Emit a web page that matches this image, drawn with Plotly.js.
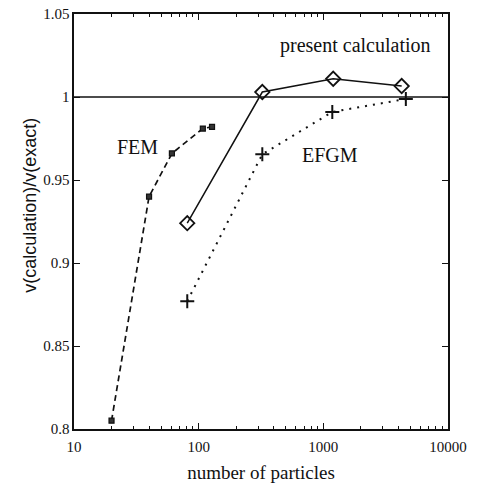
<!DOCTYPE html>
<html><head><meta charset="utf-8">
<script src="https://cdn.plot.ly/plotly-3.0.1.min.js"></script>
<style>html,body{margin:0;padding:0;background:#fff}#chart{width:481px;height:483px}</style>
</head><body><div id="chart"></div>
<script>
// Data
const femN = [20, 40, 61, 108, 128];
const femV = [0.805, 0.940, 0.966, 0.981, 0.982];
const presentN = [81, 324, 1200, 4250];
const presentV = [0.924, 1.003, 1.011, 1.0066];
const efgmN = [81, 324, 1180, 4590];
const efgmV = [0.877, 0.9655, 0.991, 0.9988];
const exactRatio = 1;
const xTickVals = [10, 100, 1000, 10000];
const xTickText = ['10', '100', '1000', '10000'];
const xMinorVals = [20,30,40,50,60,70,80,90,200,300,400,500,600,700,800,900,2000,3000,4000,5000,6000,7000,8000,9000];
const yTickVals = [0.8, 0.85, 0.9, 0.95, 1, 1.05];
const yTickText = ['0.8', '0.85', '0.9', '0.95', '1', '1.05'];

const serif = '"Liberation Serif", "Times New Roman", Times, serif';
const sans = '"Liberation Sans", Arial, Helvetica, sans-serif';
const ink = '#111';

const traces = [
  {x: femN, y: femV, mode: 'lines+markers', name: 'FEM',
   line: {color: ink, width: 1.7, dash: '6px,4px'},
   marker: {symbol: 'square', size: 5, color: '#333', line: {color: ink, width: 1.2}}},
  {x: presentN, y: presentV, mode: 'lines+markers', name: 'present calculation',
   line: {color: ink, width: 1.5},
   marker: {symbol: 'diamond-open', size: 11, color: ink, line: {color: ink, width: 1.8}}},
  {x: efgmN, y: efgmV, mode: 'lines+markers', name: 'EFGM',
   line: {color: ink, width: 2, dash: '2px,6px'},
   marker: {symbol: 'cross-thin-open', size: 10, color: ink, line: {color: ink, width: 2}}}
];

const layout = {
  width: 481, height: 483,
  margin: {l: 74, r: 33, t: 14, b: 54},
  paper_bgcolor: '#fff', plot_bgcolor: '#fff',
  showlegend: false,
  font: {family: serif, size: 15, color: ink},
  xaxis: {
    type: 'log', range: [1, 4],
    tickmode: 'array', tickvals: xTickVals, ticktext: xTickText,
    ticks: 'inside', ticklen: 6, tickcolor: ink, tickwidth: 1,
    ticklabelstandoff: 3,
    minor: {tickmode: 'array', tickvals: xMinorVals, ticks: 'inside', ticklen: 3, tickcolor: ink, showgrid: false},
    showline: true, linecolor: ink, linewidth: 1.6, mirror: 'ticks',
    showgrid: false, zeroline: false,
    tickfont: {family: serif, size: 15, color: ink},
    title: {text: 'number of particles', font: {family: serif, size: 19, color: ink}, standoff: 15}
  },
  yaxis: {
    range: [0.8, 1.05],
    tickmode: 'array', tickvals: yTickVals, ticktext: yTickText,
    ticks: 'inside', ticklen: 6, tickcolor: ink, tickwidth: 1,
    showline: true, linecolor: ink, linewidth: 1.6, mirror: 'ticks',
    showgrid: false, zeroline: false,
    tickfont: {family: serif, size: 15, color: ink}
  },
  shapes: [
    {type: 'line', xref: 'paper', x0: 0, x1: 1, yref: 'y', y0: exactRatio, y1: exactRatio,
     line: {color: ink, width: 1.4}}
  ],
  annotations: [
    {text: 'v(calculation)/v(exact)', xref: 'paper', yref: 'paper', x: -0.118, y: 0.54,
     textangle: -90, xanchor: 'center', yanchor: 'middle', showarrow: false,
     font: {family: sans, size: 18, color: ink}},
    {text: 'present calculation', xref: 'paper', yref: 'paper', x: 0.754, y: 0.925,
     xanchor: 'center', yanchor: 'middle', showarrow: false, font: {family: serif, size: 20, color: ink}},
    {text: 'FEM', xref: 'paper', yref: 'paper', x: 0.171, y: 0.680,
     xanchor: 'center', yanchor: 'middle', showarrow: false, font: {family: serif, size: 20, color: ink}},
    {text: 'EFGM', xref: 'paper', yref: 'paper', x: 0.684, y: 0.660,
     xanchor: 'center', yanchor: 'middle', showarrow: false, font: {family: serif, size: 20, color: ink}}
  ]
};

Plotly.newPlot('chart', traces, layout, {displayModeBar: false, staticPlot: true});
</script>
</body></html>
